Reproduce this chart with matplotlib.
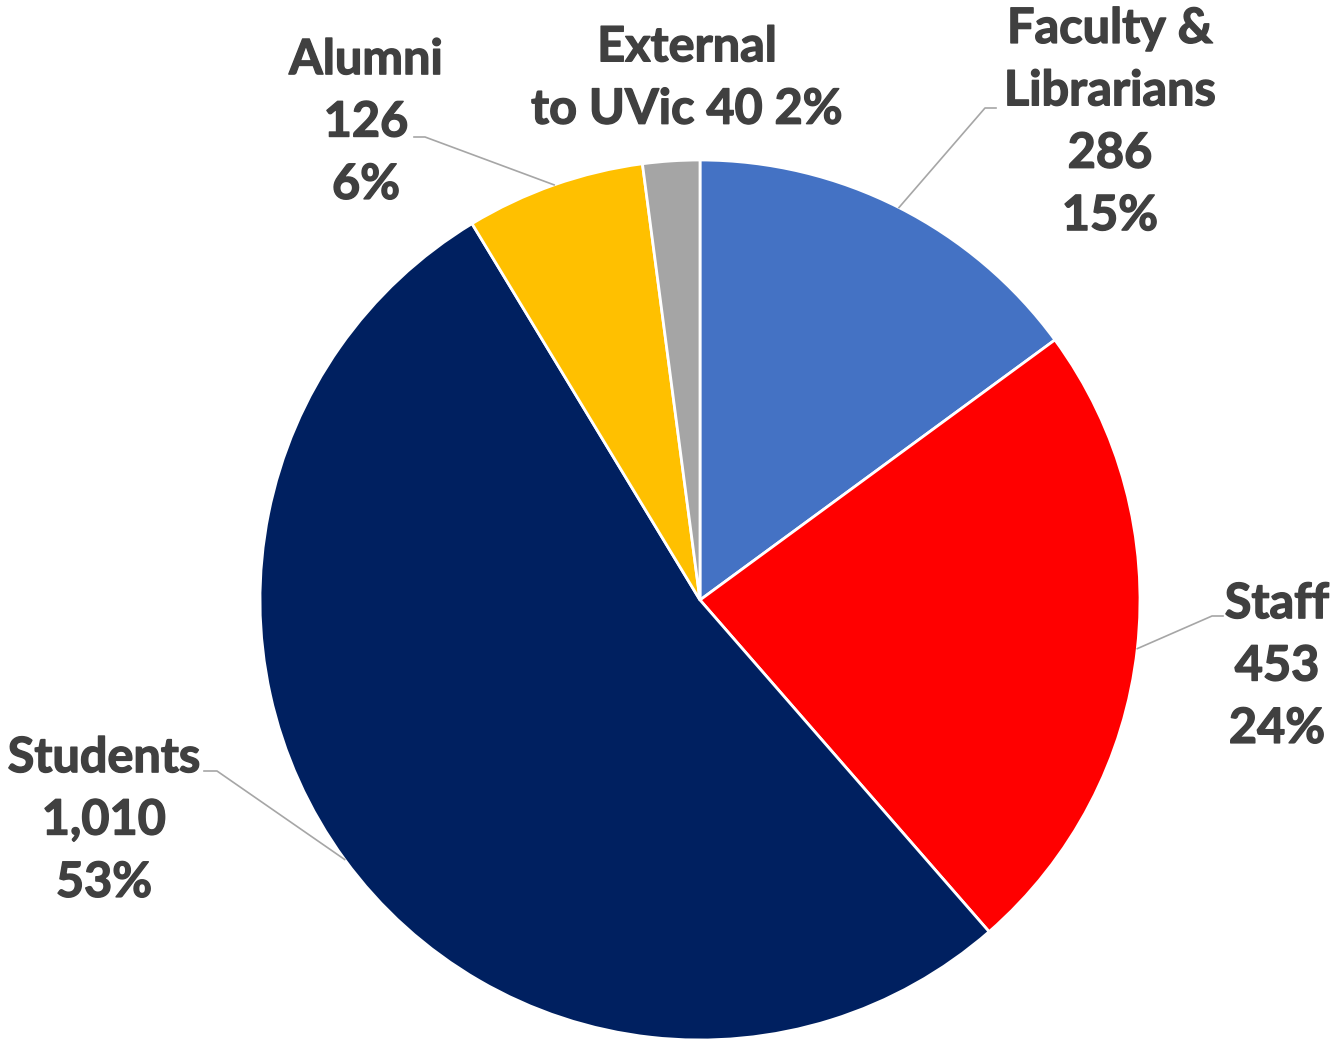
import numpy as np
import matplotlib.pyplot as plt
import matplotlib.patheffects as pe

# survey respondents by group
groups = ['Faculty &\nLibrarians', 'Staff', 'Students', 'Alumni', 'External\nto UVic']
counts = [286, 453, 1010, 126, 40]
pcts = [15, 24, 53, 6, 2]
colors = ['#4472C4', '#FF0000', '#002060', '#FFC000', '#A5A5A5']

W, H = 1331, 1039
fig = plt.figure(figsize=(W / 100, H / 100), dpi=100)
ax = fig.add_axes([0, 0, 1, 1])

cx, cy, r = 700, H - 600, 440
wedges, _ = ax.pie(counts, colors=colors, startangle=90, counterclock=False,
                   center=(cx, cy), radius=r,
                   wedgeprops=dict(edgecolor='white', linewidth=2))
ax.set_xlim(0, W)
ax.set_ylim(0, H)
ax.set_aspect('equal')
ax.axis('off')

txt = dict(color='#404040', fontsize=35, fontweight='bold', family='Lato',
           ha='center', va='center', linespacing=1.47,
           path_effects=[pe.withStroke(linewidth=1.0, foreground='#404040')])

# label centre (x, y from top) and leader elbow per slice; None = no leader
layout = [
    ((1110, 122), [(985, 108), (996, 108)]),
    ((1277, 666), [(1212, 616), (1223, 616)]),
    ((104, 820), [(217, 771), (204, 771)]),
    ((366, 122), [(425, 137), (414, 137)]),
    ((687, 78), None),
]

for w, g, n, p, (pos, elbow) in zip(wedges, groups, counts, pcts, layout):
    if g.startswith('External'):
        s = f'{g} {n:,} {p}%'
    else:
        s = f'{g}\n{n:,}\n{p}%'
    ax.text(pos[0], H - pos[1], s, **txt)
    if elbow:
        mid = np.deg2rad((w.theta1 + w.theta2) / 2)
        xs = [cx + r * np.cos(mid)] + [e[0] for e in elbow]
        ys = [cy + r * np.sin(mid)] + [H - e[1] for e in elbow]
        ax.plot(xs, ys, color='#A6A6A6', lw=1.2)

fig.savefig('out.png', dpi=100)
